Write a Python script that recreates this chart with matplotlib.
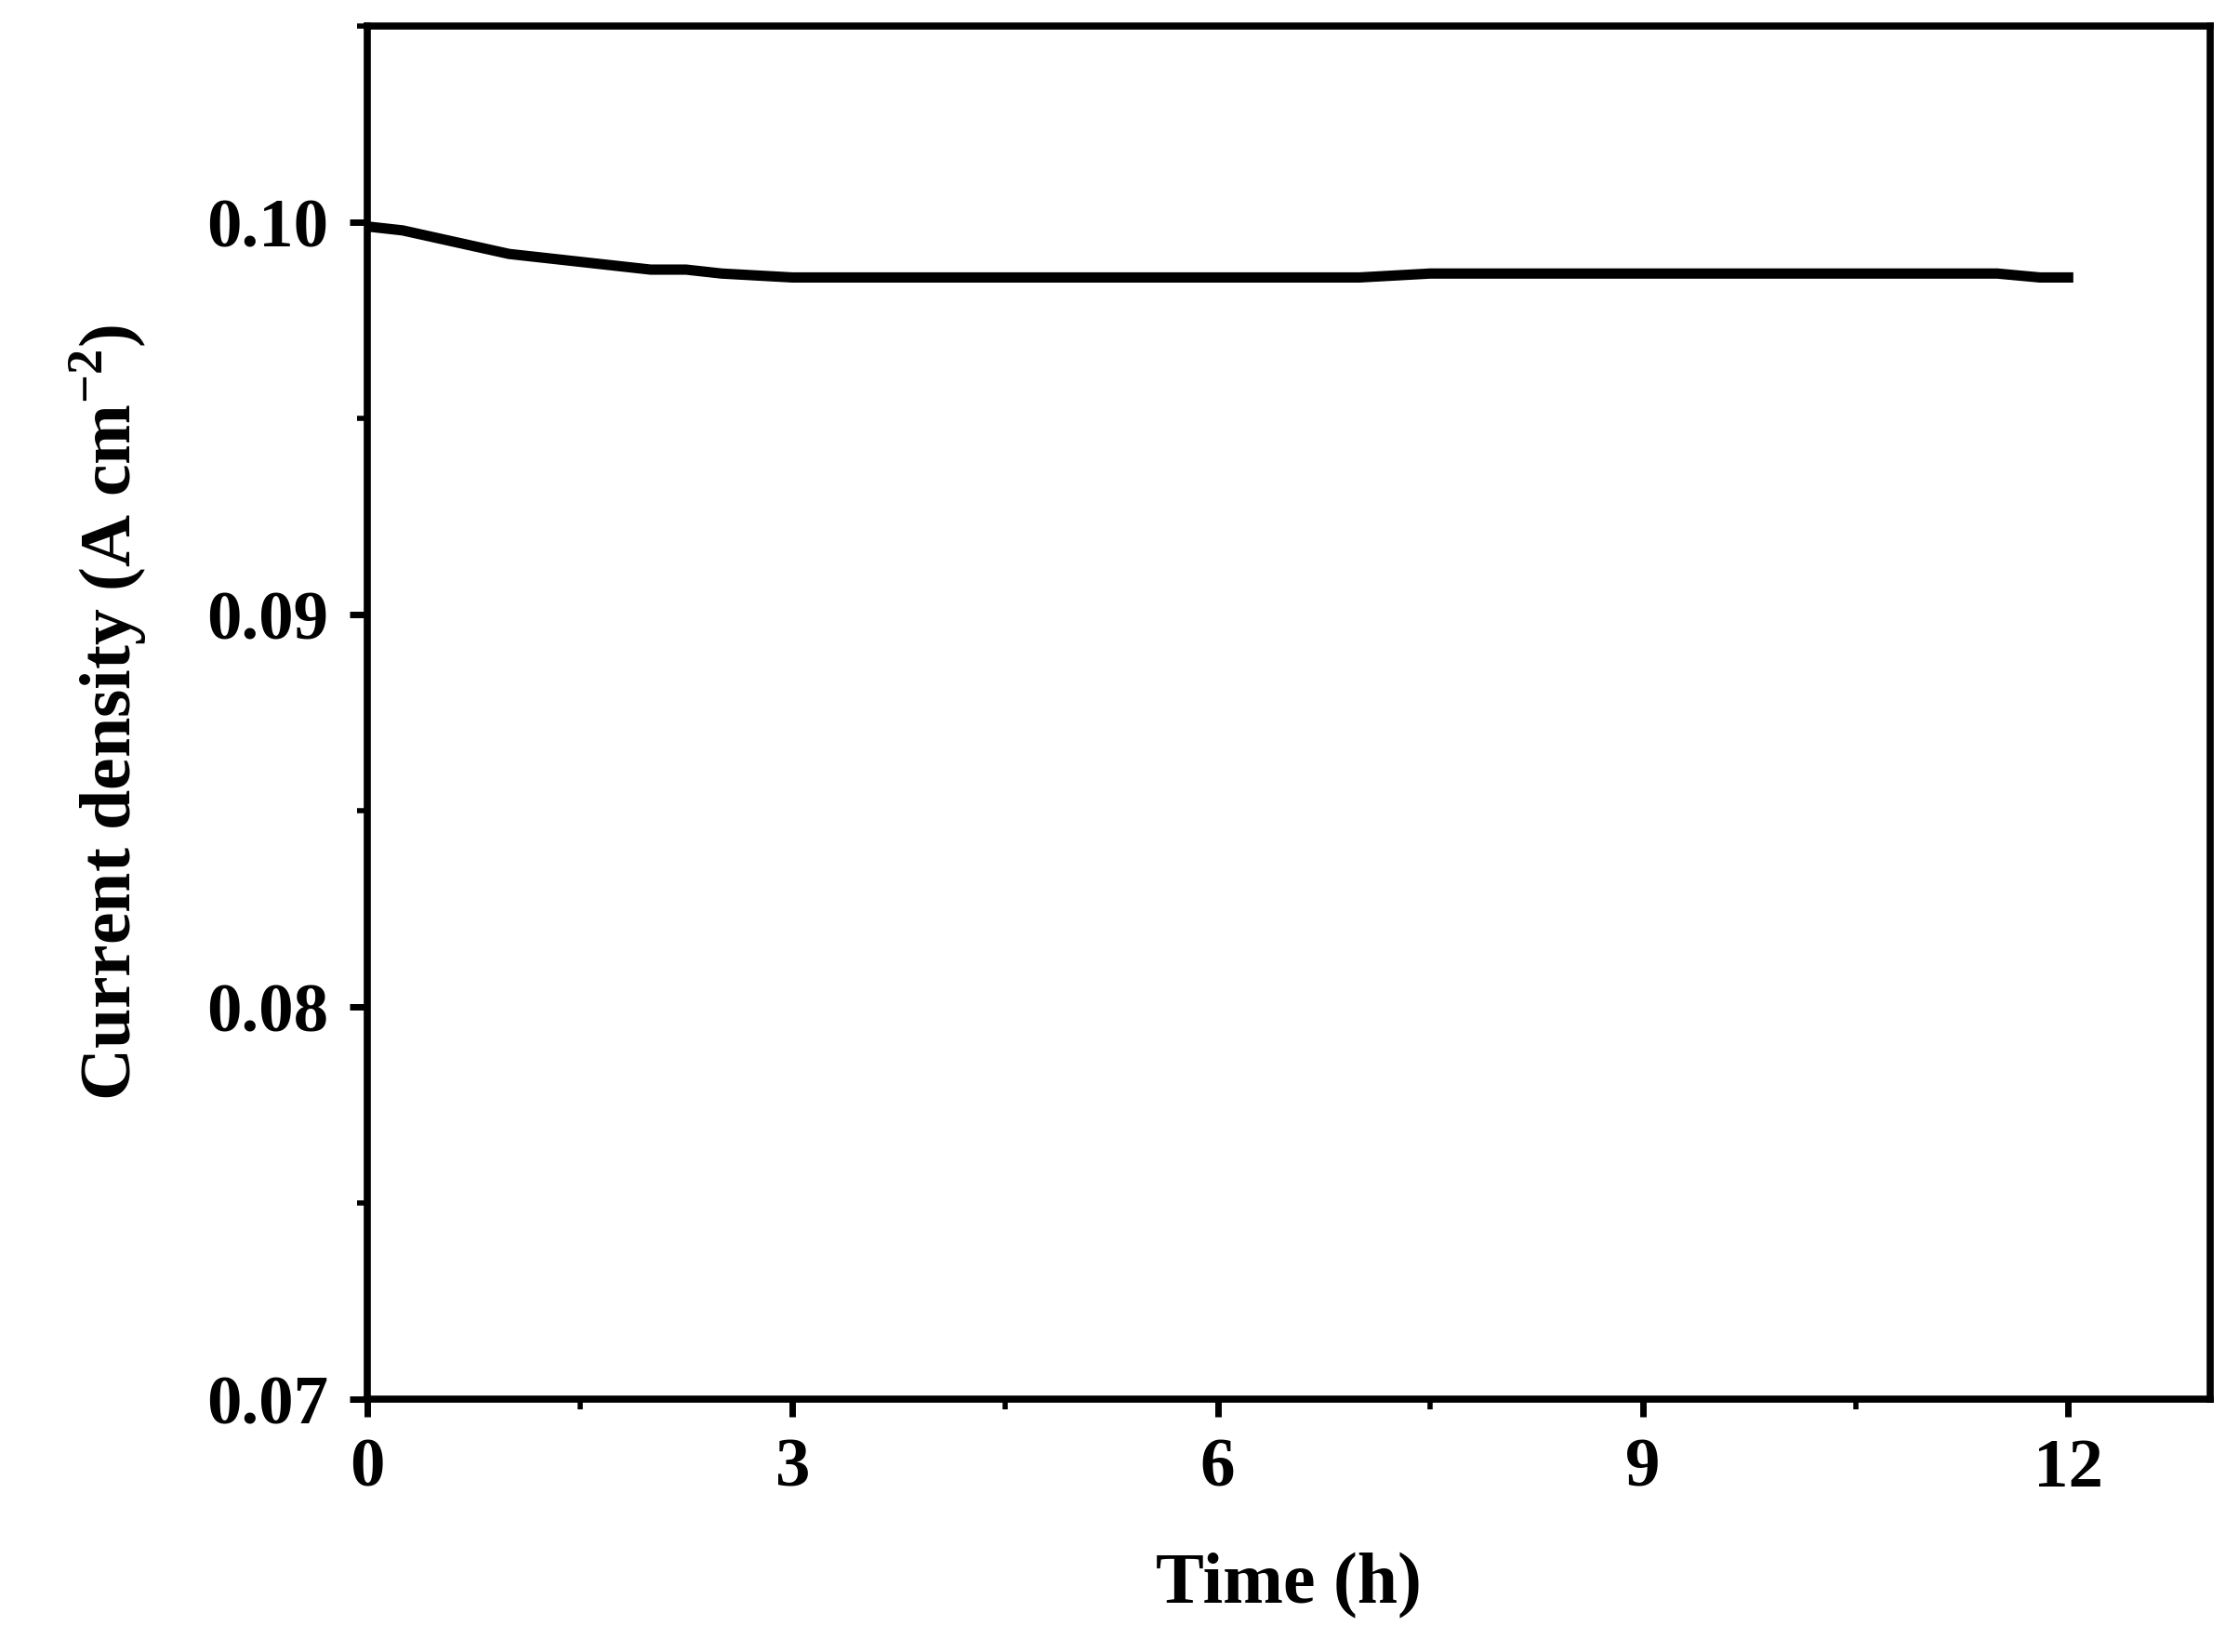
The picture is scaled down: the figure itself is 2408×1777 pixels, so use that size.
import matplotlib
matplotlib.use("Agg")
import matplotlib.pyplot as plt
from matplotlib.ticker import MultipleLocator

time_h = [0.0, 0.25, 0.5, 0.75, 1.0, 1.25, 1.5, 1.75, 2.0, 2.25, 2.5, 3.0, 3.5, 4.0, 4.5, 5.0, 5.5, 6.0, 6.5, 7.0, 7.5, 8.0, 8.5, 9.0, 9.5, 10.0, 10.5, 11.0, 11.5, 11.8, 12.0]
current = [0.0999, 0.0998, 0.0996, 0.0994, 0.0992, 0.0991, 0.0990, 0.0989, 0.0988, 0.0988, 0.0987, 0.0986, 0.0986, 0.0986, 0.0986, 0.0986, 0.0986, 0.0986, 0.0986, 0.0986, 0.0987, 0.0987, 0.0987, 0.0987, 0.0987, 0.0987, 0.0987, 0.0987, 0.0987, 0.0986, 0.0986]

plt.rcParams['font.family'] = ['Liberation Serif', 'DejaVu Serif']
plt.rcParams['font.weight'] = 'bold'
plt.rcParams['mathtext.fontset'] = 'custom'
plt.rcParams['mathtext.rm'] = 'Liberation Serif:bold'
fig = plt.figure(figsize=(24.08, 17.77), dpi=100)
ax = fig.add_axes([0.164, 0.153, 0.823, 0.831])
ax.plot(time_h, current, color='black', lw=8)
ax.set_xlim(0, 13)
ax.set_ylim(0.07, 0.105)
ax.set_xticks([0, 3, 6, 9, 12])
ax.set_yticks([0.07, 0.08, 0.09, 0.10])
ax.set_yticklabels(['0.07', '0.08', '0.09', '0.10'])
ax.xaxis.set_minor_locator(MultipleLocator(1.5))
ax.yaxis.set_minor_locator(MultipleLocator(0.005))
for s in ax.spines.values():
    s.set_linewidth(5.5)
ax.tick_params(which='major', length=14, width=5, labelsize=54, pad=16)
ax.tick_params(which='minor', length=8, width=4)
for lab in ax.get_xticklabels() + ax.get_yticklabels():
    lab.set_fontweight('bold')
ax.set_xlabel('Time (h)', fontsize=56, fontweight='bold', labelpad=40)
ax.set_ylabel('Current density (A cm$^{\\mathrm{-2}}$)', fontsize=56, fontweight='bold', labelpad=45)
fig.savefig('out.png', dpi=100)
